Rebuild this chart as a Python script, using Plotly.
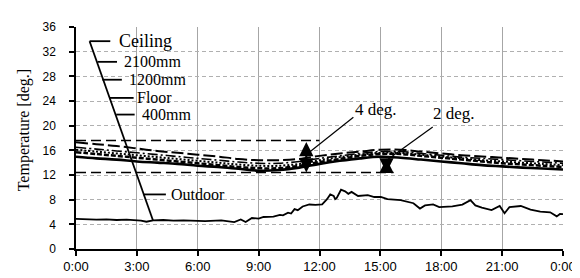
import plotly.graph_objects as go

# ---------------- data ----------------
hours = [0, 1, 2, 3, 4, 5, 6, 7, 8, 9, 10, 11, 12, 13, 14, 15, 16, 17, 18, 19, 20, 21, 22, 23, 24]
ceiling = [17.3, 17.0, 16.7, 16.3, 15.9, 15.6, 15.3, 15.0, 14.6, 14.4, 14.4, 14.6, 15.1, 15.5, 15.8, 16.1, 16.1, 15.8, 15.5, 15.2, 15.0, 14.8, 14.6, 14.4, 14.2]
h2100 = [16.5, 16.2, 15.9, 15.6, 15.3, 15.0, 14.7, 14.4, 14.1, 13.9, 13.9, 14.2, 14.7, 15.1, 15.5, 15.8, 15.8, 15.5, 15.2, 14.9, 14.7, 14.5, 14.3, 14.1, 13.9]
h1200 = [16.1, 15.8, 15.5, 15.2, 14.9, 14.6, 14.3, 14.0, 13.7, 13.5, 13.5, 13.8, 14.4, 14.9, 15.3, 15.6, 15.6, 15.3, 15.0, 14.7, 14.4, 14.2, 14.0, 13.8, 13.6]
floor = [15.7, 15.4, 15.1, 14.8, 14.5, 14.2, 13.9, 13.6, 13.3, 13.1, 13.1, 13.5, 14.1, 14.6, 15.1, 15.4, 15.4, 15.1, 14.8, 14.5, 14.2, 13.9, 13.7, 13.5, 13.3]
h400 = [14.95, 14.7, 14.5, 14.2, 14.0, 13.8, 13.5, 13.3, 13.0, 12.7, 12.8, 13.2, 13.8, 14.3, 14.7, 14.95, 14.8, 14.5, 14.2, 13.9, 13.6, 13.4, 13.2, 13.05, 12.9]

out_t = [0, 0.5, 1, 1.5, 2, 2.5, 2.83, 3.2, 3.47, 3.8, 4.3, 4.8, 5.3, 5.8, 6.0, 6.36, 7.16, 7.6, 7.8, 8.12, 8.36, 8.67, 9.0, 9.24, 9.73,
         10.05, 10.2, 10.45, 10.6, 10.77, 10.93, 11.17, 11.5, 11.8, 12.13, 12.37, 12.53, 12.7, 12.77, 12.85, 13.06, 13.26,
         13.42, 13.58, 13.9, 14.38, 14.7, 15.02, 15.35, 16.0, 16.63, 16.95, 17.2, 17.6, 17.9, 18.55, 19.04, 19.44, 19.68,
         20.0, 20.48, 20.88, 21.12, 21.36, 21.92, 22.4, 22.88, 23.37, 23.69, 23.85, 24.0]
outdoor = [4.9, 4.8, 4.75, 4.8, 4.7, 4.75, 4.68, 4.6, 4.42, 4.63, 4.7, 4.6, 4.65, 4.55, 4.53, 4.53, 4.63, 4.4, 4.37, 4.78, 4.37, 5.03, 4.93, 5.19, 5.24,
           5.54, 5.45, 5.9, 5.75, 6.46, 6.3, 6.9, 7.22, 7.17, 7.22, 8.08, 8.85, 8.6, 8.08, 8.3, 9.61, 9.35,
           8.95, 9.26, 8.6, 8.74, 8.43, 8.45, 8.08, 7.93, 7.42, 6.56, 7.06, 7.22, 6.8, 6.9, 7.2, 7.93, 7.06,
           6.71, 6.3, 6.97, 5.8, 6.8, 6.97, 6.4, 6.05, 5.95, 5.29, 5.69, 5.64]

x_tickvals = [0, 3, 6, 9, 12, 15, 18, 21, 24]
x_ticktext = ["0:00", "3:00", "6:00", "9:00", "12:00", "15:00", "18:00", "21:00", "0:00"]
y_tickvals = [0, 4, 8, 12, 16, 20, 24, 28, 32, 36]

# reference lines and arrows
ref_top, ref_top_end = 17.6, 12.0
ref_bot, ref_bot_end = 12.4, 15.65
arrow1_x, arrow1_top = 11.35, 17.6
arrow2_x, arrow2_top = 15.3, 14.9

# legend callouts: (label, y, tick x0, tick x1, text x)
legend_items = [
    ("Ceiling", 33.7, 0.67, 1.69, 2.02),
    ("2100mm", 30.35, 1.06, 2.02, 2.26),
    ("1200mm", 27.45, 1.30, 2.26, 2.50),
    ("Floor", 24.5, 1.66, 2.84, 2.89),
    ("400mm", 21.8, 1.98, 2.89, 3.13),
    ("Outdoor", 8.85, 3.32, 4.43, 4.57),
]
spine = (0.67, 33.7, 3.80, 4.58)

SERIF = "Liberation Serif"
SANS = "Liberation Sans"

fig = go.Figure()
styles = [
    (ceiling, "Ceiling", dict(color="black", width=2, dash="12px,4px")),
    (h2100, "2100mm", dict(color="black", width=1.6, dash="10px,3px,2px,3px")),
    (h1200, "1200mm", dict(color="black", width=2, dash="2px,2px")),
    (floor, "Floor", dict(color="black", width=2.5, dash="5px,2px")),
    (h400, "400mm", dict(color="black", width=2.6)),
]
for ys, name, ln in styles:
    fig.add_trace(go.Scatter(x=hours, y=ys, mode="lines", name=name, line=ln,
                             line_shape="spline", showlegend=False))
fig.add_trace(go.Scatter(x=out_t, y=outdoor, mode="lines", name="Outdoor",
                         line=dict(color="black", width=1.8), showlegend=False))

shapes = []
# reference dashed lines
shapes.append(dict(type="line", xref="x", yref="y", x0=0, x1=ref_top_end, y0=ref_top, y1=ref_top,
                   line=dict(color="black", width=1.4, dash="10px,5px")))
shapes.append(dict(type="line", xref="x", yref="y", x0=0, x1=ref_bot_end, y0=ref_bot, y1=ref_bot,
                   line=dict(color="black", width=1.4, dash="10px,5px")))
# legend spine & ticks
shapes.append(dict(type="line", xref="x", yref="y", x0=spine[0], y0=spine[1], x1=spine[2], y1=spine[3],
                   line=dict(color="black", width=1.8)))
for lab, yy, x0, x1, xt in legend_items:
    shapes.append(dict(type="line", xref="x", yref="y", x0=x0, x1=x1, y0=yy, y1=yy,
                       line=dict(color="black", width=1.8)))
# leader lines for deg labels
shapes.append(dict(type="line", xref="x", yref="y", x0=13.67, y0=21.37, x1=11.5, y1=15.7,
                   line=dict(color="black", width=1.2)))
shapes.append(dict(type="line", xref="x", yref="y", x0=17.58, y0=19.8, x1=15.36, y1=14.5,
                   line=dict(color="black", width=1.2)))

annotations = []
for lab, yy, x0, x1, xt in legend_items:
    annotations.append(dict(x=xt, y=yy, xref="x", yref="y", text=lab, showarrow=False,
                            xanchor="left", yanchor="middle",
                            font=dict(family=SERIF, size=18 if lab == "Ceiling" else 16, color="black")))
annotations.append(dict(x=14.78, y=22.6, xref="x", yref="y", text="4 deg.", showarrow=False,
                        font=dict(family=SERIF, size=17, color="black")))
annotations.append(dict(x=18.63, y=22.0, xref="x", yref="y", text="2 deg.", showarrow=False,
                        font=dict(family=SERIF, size=17, color="black")))
for ax_, top in [(arrow1_x, arrow1_top), (arrow2_x, arrow2_top)]:
    annotations.append(dict(x=ax_, y=ref_bot, ax=ax_, ay=top, xref="x", yref="y", axref="x", ayref="y",
                            text="", showarrow=True, arrowhead=2, arrowside="end+start",
                            arrowsize=1.3, arrowwidth=2.2, arrowcolor="black", standoff=0, startstandoff=0))
annotations.append(dict(x=(15 - 68) / 499.0, y=0.536, xref="paper", yref="paper", text="Temperature [deg.]",
                        textangle=-90, showarrow=False, xanchor="center", yanchor="middle",
                        font=dict(family=SERIF, size=16, color="black")))

fig.update_layout(
    width=580, height=278,
    margin=dict(l=68, r=13, t=12, b=30),
    paper_bgcolor="white", plot_bgcolor="white",
    shapes=shapes, annotations=annotations,
    xaxis=dict(range=[0, 24], tickvals=x_tickvals, ticktext=x_ticktext,
               showgrid=True, gridcolor="#a6a6a6", gridwidth=1,
               showline=True, linecolor="black", linewidth=1.5,
               ticks="outside", ticklen=5, tickcolor="black", tickwidth=1.5,
               tickfont=dict(family=SANS, size=13, color="black"), zeroline=False),
    yaxis=dict(range=[0, 36], tickvals=y_tickvals,
               showgrid=True, gridcolor="#b0b0b0", gridwidth=1, griddash="4px,3px",
               showline=True, linecolor="black", linewidth=1.5,
               ticks="outside", ticklen=5, tickcolor="black", tickwidth=1.5,
               tickfont=dict(family=SANS, size=12, color="black"), zeroline=False,
               ticklabelstandoff=11),
)

fig.write_html("out.html")
